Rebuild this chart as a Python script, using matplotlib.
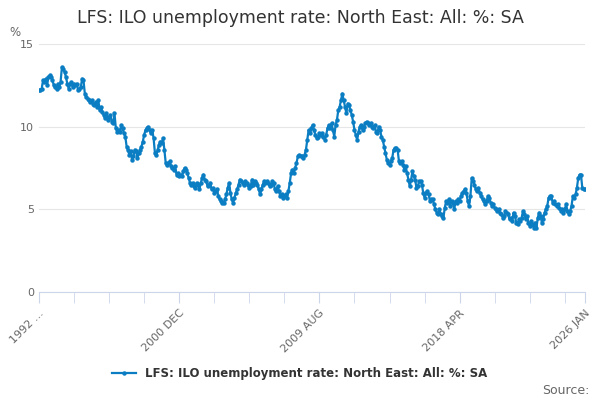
import matplotlib
matplotlib.use("Agg")
import matplotlib.pyplot as plt
import numpy as np
import pandas as pd

# Monthly values, Apr 1992 .. Jan 2026
Y1992 = [12.2, 12.2, 12.3, 12.8, 12.7, 12.9, 12.5, 13.0, 13.1]
YEARS = [
    [13.0, 12.8, 12.5, 12.4, 12.3, 12.6, 12.4, 12.7, 13.6, 13.5, 13.3, 13.0],
    [12.6, 12.3, 12.6, 12.7, 12.4, 12.6, 12.5, 12.6, 12.2, 12.3, 12.4, 12.9],
    [12.8, 12.0, 11.8, 11.7, 11.6, 11.5, 11.6, 11.4, 11.3, 11.5, 11.2, 11.6],
    [11.0, 11.2, 10.9, 10.7, 10.5, 10.8, 10.4, 10.6, 10.7, 10.3, 10.2, 10.8],
    [9.9, 9.7, 9.8, 9.7, 10.1, 9.9, 9.6, 9.4, 8.8, 8.6, 8.3, 8.5],
    [8.0, 8.2, 8.6, 8.5, 8.1, 8.4, 8.6, 8.8, 9.1, 9.5, 9.8, 9.9],
    [10.0, 9.8, 9.6, 9.8, 9.3, 8.4, 8.3, 8.6, 8.9, 9.1, 9.0, 9.3],
    [8.6, 7.8, 7.7, 7.8, 7.9, 7.6, 7.5, 7.4, 7.6, 7.1, 7.2, 7.0],
    [7.1, 7.0, 7.3, 7.5, 7.4, 7.2, 6.9, 6.6, 6.5, 6.6, 6.4, 6.3],
    [6.6, 6.5, 6.2, 6.6, 6.9, 7.1, 6.8, 6.7, 6.4, 6.5, 6.6, 6.2],
    [6.3, 6.0, 6.1, 6.2, 5.8, 5.6, 5.5, 5.4, 5.4, 5.6, 5.9, 6.3],
    [6.6, 6.0, 5.6, 5.4, 5.7, 6.0, 6.2, 6.5, 6.8, 6.7, 6.6, 6.5],
    [6.7, 6.6, 6.5, 6.3, 6.4, 6.8, 6.5, 6.7, 6.6, 6.5, 6.2, 5.9],
    [6.2, 6.5, 6.7, 6.6, 6.7, 6.6, 6.4, 6.5, 6.7, 6.6, 6.2, 6.1],
    [6.4, 6.1, 5.8, 5.9, 5.7, 5.8, 5.9, 5.7, 6.1, 6.6, 7.2, 7.4],
    [7.2, 7.5, 7.8, 8.2, 8.3, 8.2, 8.2, 8.1, 8.3, 8.6, 9.2, 9.8],
    [9.6, 9.9, 10.1, 9.8, 9.5, 9.3, 9.4, 9.6, 9.5, 9.6, 9.4, 9.2],
    [9.5, 9.9, 10.1, 9.9, 10.2, 9.8, 9.4, 10.1, 10.4, 11.0, 11.2, 11.6],
    [12.0, 11.6, 11.2, 10.8, 11.4, 11.3, 11.0, 10.7, 10.3, 9.8, 9.5, 9.2],
    [9.7, 10.0, 10.1, 9.8, 10.0, 10.2, 10.3, 10.2, 10.1, 10.2, 10.0, 9.9],
    [10.1, 9.7, 9.6, 10.0, 9.8, 9.4, 9.2, 8.8, 8.4, 8.0, 7.8, 7.7],
    [7.9, 8.1, 8.6, 8.7, 8.7, 8.6, 7.9, 7.8, 7.9, 7.7, 7.4, 7.6],
    [7.2, 6.8, 6.4, 6.8, 7.3, 7.0, 6.8, 6.3, 6.4, 6.7, 6.7, 6.5],
    [6.0, 5.7, 6.0, 6.1, 5.9, 5.5, 5.6, 5.6, 5.3, 5.0, 4.8, 4.7],
    [5.0, 4.7, 4.6, 4.5, 5.1, 5.5, 5.4, 5.6, 5.2, 5.5, 5.4, 5.0],
    [5.5, 5.4, 5.6, 5.5, 5.8, 6.0, 6.1, 6.2, 6.0, 5.5, 5.2, 5.8],
    [6.9, 6.7, 6.5, 6.2, 6.1, 6.3, 6.0, 5.8, 5.6, 5.5, 5.3, 5.5],
    [5.8, 5.7, 5.4, 5.2, 5.3, 5.1, 5.0, 4.9, 5.0, 4.8, 4.7, 4.5],
    [4.6, 4.9, 4.8, 4.7, 4.4, 4.5, 4.3, 4.8, 4.6, 4.2, 4.1, 4.4],
    [4.3, 4.5, 4.9, 4.7, 4.4, 4.6, 4.2, 4.0, 4.3, 4.1, 3.9, 4.2],
    [3.9, 4.5, 4.8, 4.6, 4.2, 4.4, 4.8, 5.0, 5.2, 5.7, 5.8, 5.8],
    [5.4, 5.5, 5.3, 5.2, 5.3, 5.1, 4.9, 5.0, 4.8, 5.0, 5.3, 4.9],
    [4.7, 4.9, 5.2, 5.8, 5.7, 5.9, 6.3, 6.9, 7.1, 7.1, 6.3, 6.2],
]
Y2026 = [6.2]

values = Y1992 + [v for row in YEARS for v in row] + Y2026
tick_labels = ["1992 ...", "2000 DEC", "2009 AUG", "2018 APR", "2026 JAN"]
tick_idx = [0, 104, 208, 312, 405]

x = np.arange(len(values))
blue = "#0b7dc2"
grey = "#666666"

fig = plt.figure(figsize=(6, 4), dpi=100)
ax = fig.add_axes([0.065, 0.27, 0.91, 0.62])
ax.plot(x, values, color=blue, lw=1.6, marker="o", ms=2.2, label="LFS: ILO unemployment rate: North East: All: %: SA")

ax.set_xlim(0, len(values) - 1)
ax.set_ylim(0, 15)
ax.set_yticks([0, 5, 10, 15])
ax.tick_params(axis="y", length=0, labelsize=8, colors=grey)
ax.set_xticks(tick_idx)
ax.set_xticklabels(tick_labels, rotation=45, ha="right", rotation_mode="anchor")
ax.set_xticks(np.arange(0, 406, 26), minor=True)
ax.tick_params(axis="x", which="both", length=8, color="#ccd6eb", labelsize=8, labelcolor=grey)
ax.grid(axis="y", color="#e6e6e6", lw=0.8)
for s in ["top", "right", "left"]:
    ax.spines[s].set_visible(False)
ax.spines["bottom"].set_color("#ccd6eb")

fig.text(0.5, 0.955, "LFS: ILO unemployment rate: North East: All: %: SA", ha="center", va="center", fontsize=12.5, color="#333333")
fig.text(0.015, 0.92, "%", fontsize=8.5, color=grey, va="center")
leg = fig.legend(loc="center", bbox_to_anchor=(0.5, 0.067), frameon=False, fontsize=8.5)
for t in leg.get_texts():
    t.set_fontweight("bold")
    t.set_color("#333333")
fig.text(0.982, 0.025, "Source:", ha="right", va="center", fontsize=9, color=grey)

fig.savefig("out.png", dpi=100)
